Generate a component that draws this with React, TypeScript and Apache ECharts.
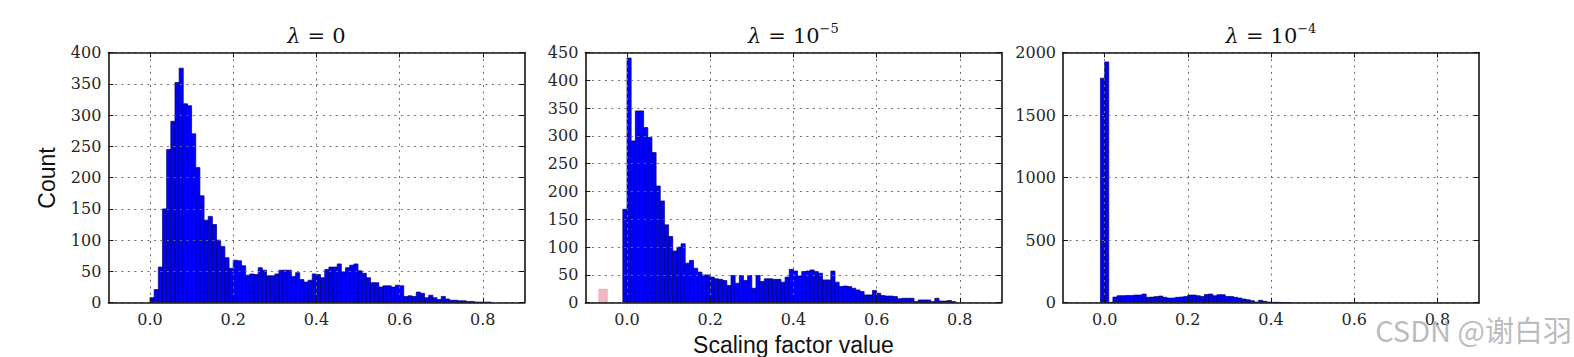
import React, { useEffect, useRef } from "react";
import * as echarts from "echarts";

// ---------- data ----------
const binWidth = 0.01;

// λ = 0 histogram (bins start at 0.00)
const lambda0Start = 0.0;
const lambda0Counts = [
  8, 21, 57, 150, 245, 290, 352, 375, 318, 315,
  270, 216, 171, 132, 138, 125, 100, 90, 72, 55,
  68, 67, 59, 44, 46, 45, 56, 52, 43, 43,
  46, 52, 52, 52, 42, 48, 37, 33, 36, 46,
  45, 40, 53, 57, 57, 62, 49, 56, 60, 62,
  51, 47, 40, 32, 32, 25, 27, 27, 25, 28,
  27, 10, 11, 10, 17, 15, 8, 12, 8, 5,
  10, 6, 4, 4, 3, 3, 2, 2, 1, 1,
  1, 1,
];

// λ = 1e-5 histogram (bins start at -0.01)
const lambda5Start = -0.01;
const lambda5Counts = [
  168, 440, 291, 345, 345, 315, 297, 270, 210, 183,
  140, 119, 93, 100, 106, 71, 76, 62, 55, 50,
  50, 46, 43, 42, 40, 31, 49, 35, 49, 40,
  49, 26, 49, 38, 43, 43, 42, 42, 37, 46,
  60, 57, 48, 56, 57, 59, 56, 53, 41, 41,
  57, 37, 29, 30, 29, 26, 23, 20, 14, 14,
  22, 17, 13, 12, 12, 11, 7, 8, 8, 8,
  2, 5, 5, 5, 2, 8, 3, 3, 4, 2,
];
// faint reddish mark left of the λ = 1e-5 histogram: [from, to, height]
const lambda5Mark = [[-0.069, -0.046, 25]];

// λ = 1e-4 histogram (bins start at -0.01)
const lambda4Start = -0.01;
const lambda4Counts = [
  1795, 1925, 3, 45, 56, 56, 58, 58, 61, 61,
  69, 43, 45, 50, 53, 43, 37, 37, 43, 45,
  50, 61, 61, 56, 50, 66, 69, 56, 64, 64,
  50, 50, 43, 37, 29, 24, 16, 5, 19, 11,
  5, 3, 3, 2, 1, 1,
];

const xTicks = [0, 0.2, 0.4, 0.6, 0.8];
const yMaxes = [400, 450, 2000];
const ySteps = [50, 50, 500];
const exponents = ["", "\u22125", "\u22124"];
const yAxisTitle = "Count";
const xAxisTitle = "Scaling factor value";
const watermark = "CSDN @谢白羽";

// ---------- helpers ----------
const toBins = (start: number, counts: number[]) =>
  counts.map((c, i) => [
    +(start + i * binWidth).toFixed(4),
    +(start + (i + 1) * binWidth).toFixed(4),
    c,
  ]);

const panels = [
  { left: 108.4, width: 416 },
  { left: 585.4, width: 416 },
  { left: 1063, width: 416 },
];
const gridTop = 52.5;
const gridHeight = 250.2;

const frameColor = "#151515";
const serif = "DejaVu Serif";

const makeRender = (fill: string, stroke: string, lw: number) =>
  (params: any, api: any) => {
    const p0 = api.coord([api.value(0), api.value(2)]);
    const p1 = api.coord([api.value(1), 0]);
    return {
      type: "rect",
      shape: { x: p0[0], y: p0[1], width: p1[0] - p0[0], height: p1[1] - p0[1] },
      style: { fill, stroke, lineWidth: lw },
    };
  };

function buildOption() {
  const grid: any[] = [];
  const xAxis: any[] = [];
  const yAxis: any[] = [];
  const series: any[] = [];
  const graphic: any[] = [];

  const hists = [
    toBins(lambda0Start, lambda0Counts),
    toBins(lambda5Start, lambda5Counts),
    toBins(lambda4Start, lambda4Counts),
  ];

  panels.forEach((p, i) => {
    grid.push({
      left: p.left,
      top: gridTop,
      width: p.width,
      height: gridHeight,
      containLabel: false,
      outerBoundsMode: "none",
      show: false,
    });
    const lineStyle = { color: frameColor, width: 1.6 };
    const tickStyle = { color: frameColor, width: 1 };
    const split = { show: true, lineStyle: { color: "#707070", width: 1, type: [2, 4.5] } };
    // bottom x
    xAxis.push({
      type: "value",
      gridIndex: i,
      position: "bottom",
      min: -0.1,
      max: 0.9,
      z: 3,
      axisLine: { show: true, onZero: false, lineStyle },
      axisTick: { show: true, inside: true, length: 5, customValues: xTicks, lineStyle: tickStyle },
      axisLabel: {
        show: true,
        customValues: xTicks,
        margin: 9,
        fontFamily: serif,
        fontSize: 16,
        color: "#262626",
        formatter: (v: number) => v.toFixed(1),
      },
      splitLine: split,
    });
    // top x (frame + ticks)
    xAxis.push({
      type: "value",
      gridIndex: i,
      position: "top",
      min: -0.1,
      max: 0.9,
      z: 3,
      axisLine: { show: true, onZero: false, lineStyle },
      axisTick: { show: true, inside: true, length: 5, customValues: xTicks, lineStyle: tickStyle },
      axisLabel: { show: false },
      splitLine: { show: false },
    });
    // left y
    yAxis.push({
      type: "value",
      gridIndex: i,
      position: "left",
      min: 0,
      max: yMaxes[i],
      interval: ySteps[i],
      z: 3,
      axisLine: { show: true, onZero: false, lineStyle },
      axisTick: { show: true, inside: true, length: 5, lineStyle: tickStyle },
      axisLabel: {
        show: true,
        margin: 7,
        fontFamily: serif,
        fontSize: 16,
        color: "#262626",
        showMinLabel: true,
        showMaxLabel: true,
        formatter: (v: number) => String(v),
      },
      splitLine: split,
    });
    // right y
    yAxis.push({
      type: "value",
      gridIndex: i,
      position: "right",
      min: 0,
      max: yMaxes[i],
      interval: ySteps[i],
      z: 3,
      axisLine: { show: true, onZero: false, lineStyle },
      axisTick: { show: true, inside: true, length: 5, lineStyle: tickStyle },
      axisLabel: { show: false },
      splitLine: { show: false },
    });

    series.push({
      type: "custom",
      name: "hist" + i,
      xAxisIndex: i * 2,
      yAxisIndex: i * 2,
      coordinateSystem: "cartesian2d",
      encode: { x: [0, 1], y: 2 },
      clip: true,
      z: 2,
      renderItem: makeRender("#0000ff", "#00006e", 0.7),
      data: hists[i],
    });

    // title
    const cx = p.left + p.width / 2;
    const titleText = exponents[i]
      ? `{i|λ}{e|=}{t|10}{s|${exponents[i]}}`
      : `{i|λ}{e|=}{t|0}`;
    graphic.push({
      type: "text",
      x: cx,
      y: 36,
      z: 10,
      style: {
        text: titleText,
        align: "center",
        verticalAlign: "middle",
        textAlign: "center",
        textVerticalAlign: "middle",
        fill: "#111",
        rich: {
          i: { fontFamily: serif, fontStyle: "italic", fontSize: 21, lineHeight: 28, fill: "#111" },
          e: { fontFamily: serif, fontSize: 21, lineHeight: 28, padding: [0, 7, 0, 7], fill: "#111" },
          t: { fontFamily: serif, fontSize: 21, lineHeight: 28, fill: "#111" },
          s: { fontFamily: serif, fontSize: 13, lineHeight: 15, verticalAlign: "top", fill: "#111" },
        },
      },
    });
  });

  series.push({
    type: "custom",
    name: "mark",
    xAxisIndex: 2,
    yAxisIndex: 2,
    coordinateSystem: "cartesian2d",
    encode: { x: [0, 1], y: 2 },
    clip: true,
    z: 2,
    renderItem: makeRender("rgba(232,110,130,0.5)", "rgba(0,0,0,0)", 0),
    data: lambda5Mark,
  });

  graphic.push({
    type: "text",
    x: 46.5,
    y: 178,
    rotation: Math.PI / 2,
    z: 10,
    style: {
      text: yAxisTitle,
      fontFamily: "Liberation Sans",
      fontSize: 23,
      fill: "#111",
      align: "center",
      verticalAlign: "middle",
      textAlign: "center",
      textVerticalAlign: "middle",
    },
  });
  graphic.push({
    type: "text",
    x: panels[1].left + panels[1].width / 2,
    y: 345,
    z: 10,
    style: {
      text: xAxisTitle,
      fontFamily: "Liberation Sans",
      fontSize: 23,
      fill: "#111",
      align: "center",
      verticalAlign: "middle",
      textAlign: "center",
      textVerticalAlign: "middle",
    },
  });
  graphic.push({
    type: "text",
    x: 1572,
    y: 329,
    z: 100,
    style: {
      text: watermark,
      fontFamily: "Noto Sans CJK SC",
      fontSize: 29,
      fill: "rgba(165,165,165,0.75)",
      align: "right",
      verticalAlign: "middle",
      textAlign: "right",
      textVerticalAlign: "middle",
    },
  });

  return {
    animation: false,
    backgroundColor: "#ffffff",
    grid,
    xAxis,
    yAxis,
    series,
    graphic,
  };
}

export default function App() {
  const ref = useRef<HTMLDivElement>(null);
  useEffect(() => {
    if (!ref.current) return;
    const chart = echarts.init(ref.current, null, { renderer: "svg" });
    chart.setOption(buildOption() as any);
    return () => chart.dispose();
  }, []);
  return (
    <div
      ref={ref}
      style={{ position: "fixed", left: 0, top: 0, width: 1574, height: 357, background: "#fff" }}
    />
  );
}
